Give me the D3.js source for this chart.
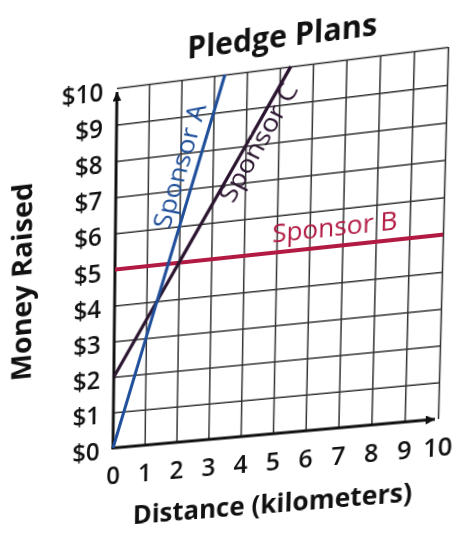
<!DOCTYPE html>
<html><head><meta charset="utf-8">
<script src="https://cdn.jsdelivr.net/npm/d3@7"></script>
<style>
html,body{margin:0;padding:0;background:#fff;overflow:hidden;width:453px;height:533px;}
#wrap{position:absolute;left:0;top:0;width:470px;height:570px;transform-origin:0 0;}
svg{display:block;overflow:visible}
</style></head><body><div id="wrap"></div>
<script>
// ---- data ----
const distanceTicks = [0,1,2,3,4,5,6,7,8,9,10];
const moneyTicks = [0,1,2,3,4,5,6,7,8,9,10];
const sponsorAKm  = [0, 1, 2, 3, 3.33];
const sponsorAUsd = [0, 3, 6, 9, 10];
const sponsorBKm  = [0, 10];
const sponsorBUsd = [5, 5];
const sponsorCKm  = [0, 2, 4, 5.33];
const sponsorCUsd = [2, 5, 8, 10];
const titleText = "Pledge Plans";
const xTitle = "Distance (kilometers)";
const yTitle = "Money Raised";

// ---- flat layout ----
const FW = 470, FH = 570;
const x0 = 115, y0 = 68, W = 328, H = 362;
const x = d3.scaleLinear().domain([0,10]).range([x0, x0+W]);
const y = d3.scaleLinear().domain([0,10]).range([y0+H, y0]);

const svg = d3.select('#wrap').append('svg').attr('width', FW).attr('height', FH);
const defs = svg.append('defs');
defs.append('marker').attr('id','arr').attr('viewBox','0 0 10 10')
  .attr('refX',10).attr('refY',5).attr('markerWidth',15).attr('markerHeight',9)
  .attr('markerUnits','userSpaceOnUse').attr('orient','auto')
  .append('path').attr('d','M0,0L10,5L0,10Z').attr('fill','#111');

const g = svg.append('g');

// grid via axes
const gridX = d3.axisBottom(x).tickValues(distanceTicks.slice(1)).tickSize(-H).tickFormat('');
g.append('g').attr('transform',`translate(0,${y0+H})`).call(gridX)
  .call(s=>s.select('.domain').remove())
  .selectAll('line').attr('stroke','#333').attr('stroke-width',1.5);
const gridY = d3.axisLeft(y).tickValues(moneyTicks.slice(1)).tickSize(-W).tickFormat('');
g.append('g').attr('transform',`translate(${x0},0)`).call(gridY)
  .call(s=>s.select('.domain').remove())
  .selectAll('line').attr('stroke','#333').attr('stroke-width',1.5);

// tick labels via axes
const yAxis = d3.axisLeft(y).tickValues(moneyTicks).tickFormat(d=>'$'+d).tickSize(0).tickPadding(14);
const ya = g.append('g').attr('transform',`translate(${x0},0)`).call(yAxis);
ya.select('.domain').remove();
ya.selectAll('text').attr('font-family','Open Sans').attr('font-size',25).attr('font-weight',600)
  .attr('fill','#111').attr('dy','0.4em');
const xAxis = d3.axisBottom(x).tickValues(distanceTicks).tickFormat(d=>d).tickSize(0).tickPadding(19);
const xa = g.append('g').attr('transform',`translate(0,${y0+H})`).call(xAxis);
xa.select('.domain').remove();
xa.selectAll('text').attr('font-family','Open Sans').attr('font-size',25).attr('font-weight',600)
  .attr('fill','#111');

// main axes with arrows
g.append('line').attr('x1',x(0)).attr('y1',y(0)+1).attr('x2',x(0)).attr('y2',y(0)-H+4)
  .attr('stroke','#111').attr('stroke-width',3).attr('marker-end','url(#arr)');
g.append('line').attr('x1',x(0)-1.5).attr('y1',y(0)).attr('x2',x(0)+W-3).attr('y2',y(0))
  .attr('stroke','#111').attr('stroke-width',3).attr('marker-end','url(#arr)');

// series
const line = d3.line().x(d=>x(d[0])).y(d=>y(d[1]));
function series(kms, usds, color, w){
  g.append('path').datum(kms.map((k,i)=>[k,usds[i]])).attr('d',line)
   .attr('fill','none').attr('stroke',color).attr('stroke-width',w).attr('stroke-linecap','butt');
}
const colA = '#1f4f9a', colB = '#b21a43', colC = '#2c1530';
series(sponsorBKm, sponsorBUsd, colB, 4);
series(sponsorCKm, sponsorCUsd, colC, 3.4);
series(sponsorAKm, sponsorAUsd, colA, 3.2);

function lineLabel(text, kms, usds, km, dy, color){
  const slope = (usds[usds.length-1]-usds[0])/(kms[kms.length-1]-kms[0]);
  const usd = usds[0] + slope*(km-kms[0]);
  const ang = Math.atan2(y(usd+slope)-y(usd), x(km+1)-x(km))*180/Math.PI;
  g.append('text').attr('transform',`translate(${x(km)},${y(usd)}) rotate(${ang})`)
   .attr('dy',dy).attr('text-anchor','middle')
   .attr('font-family','Open Sans').attr('font-size',26).attr('fill',color).text(text);
}
lineLabel('Sponsor A', sponsorAKm, sponsorAUsd, 2.5, -9, colA);
lineLabel('Sponsor C', sponsorCKm, sponsorCUsd, 4.12, 19, colC);
lineLabel('Sponsor B', sponsorBKm, sponsorBUsd, 6.75, -10, colB);

// titles
svg.append('text').attr('x',280).attr('y',38).attr('dy','0.35em').attr('text-anchor','middle')
  .attr('font-family','Open Sans').attr('font-weight',700).attr('font-size',30).attr('fill','#111').text(titleText);
svg.append('text').attr('x',278).attr('y',501).attr('dy','0.35em').attr('text-anchor','middle')
  .attr('font-family','Open Sans').attr('font-weight',700).attr('font-size',26.5).attr('fill','#111').text(xTitle);
svg.append('text').attr('transform','translate(18,252) rotate(-90)').attr('dy','0.35em').attr('text-anchor','middle')
  .attr('font-family','Open Sans').attr('font-weight',700).attr('font-size',29).attr('fill','#111').text(yTitle);

// ---- perspective of the photographed page ----
function solve(A,b){
  const n=b.length; const M=A.map((r,i)=>r.concat([b[i]]));
  for(let c=0;c<n;c++){
    let p=c; for(let r=c+1;r<n;r++) if(Math.abs(M[r][c])>Math.abs(M[p][c])) p=r;
    [M[c],M[p]]=[M[p],M[c]];
    for(let r=0;r<n;r++){ if(r===c) continue; const f=M[r][c]/M[c][c];
      for(let k=c;k<=n;k++) M[r][k]-=f*M[c][k]; }
  }
  return M.map((r,i)=>r[n]/r[i]);
}
function homography(src,dst){
  const A=[],b=[];
  for(let i=0;i<4;i++){ const [X,Y]=src[i],[u,v]=dst[i];
    A.push([X,Y,1,0,0,0,-X*u,-Y*u]); b.push(u);
    A.push([0,0,0,X,Y,1,-X*v,-Y*v]); b.push(v); }
  return solve(A,b);
}
const src = [[x0,y0],[x0+W,y0],[x0,y0+H],[x0+W,y0+H]];
const dst = [[117,88],[448,47],[113,448],[438,419]];
const [a,b,c,d,e,f,gg,h] = homography(src,dst);
document.getElementById('wrap').style.transform =
  `matrix3d(${a},${d},0,${gg},${b},${e},0,${h},0,0,1,0,${c},${f},0,1)`;
</script></body></html>
